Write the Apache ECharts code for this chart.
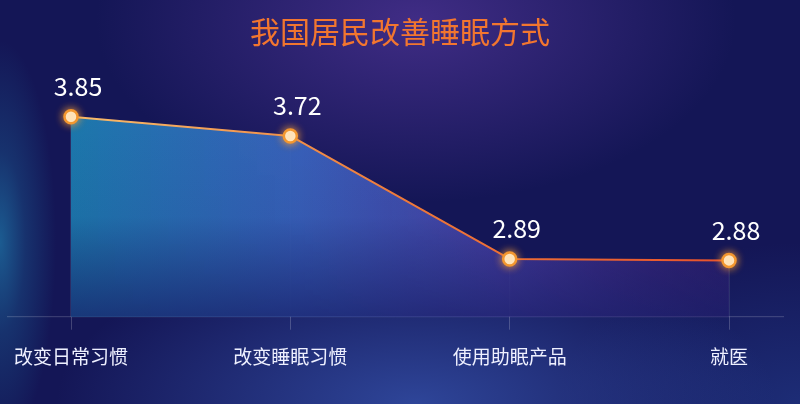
<!DOCTYPE html>
<html>
<head>
<meta charset="utf-8">
<script src="https://cdn.jsdelivr.net/npm/echarts@6/dist/echarts.min.js"></script>
<style>
html,body{margin:0;padding:0;width:800px;height:404px;overflow:hidden;}
body{
  background:
    radial-gradient(ellipse 45% 40% at 52% 100%, rgba(55,85,175,0.75), rgba(55,85,175,0) 100%),
    radial-gradient(ellipse 40% 45% at 52% 5%, rgba(75,50,145,0.8), rgba(75,50,145,0) 100%),
    radial-gradient(ellipse 7% 50% at 0% 60%, rgba(30,115,165,0.75) 0%, rgba(30,115,165,0.3) 45%, rgba(30,115,165,0) 100%),
    radial-gradient(ellipse 30% 40% at 100% 100%, rgba(35,60,140,0.6), rgba(35,60,140,0) 100%),
    #141656;
}
#c{width:800px;height:404px;}
</style>
</head>
<body>
<div id="c"></div>
<script>
const title = '我国居民改善睡眠方式';
const categories = ['改变日常习惯', '改变睡眠习惯', '使用助眠产品', '就医'];
const values = [3.85, 3.72, 2.89, 2.88];
const yMin = 2.5;
const yMax = 4.0;

const chart = echarts.init(document.getElementById('c'), null, {renderer: 'canvas'});
const font = '"Noto Sans CJK SC", "Noto Sans", sans-serif';
chart.setOption({
  backgroundColor: 'transparent',
  animation: false,
  title: {
    text: title,
    left: 'center',
    top: 12,
    textStyle: {
      fontFamily: font,
      fontSize: 30,
      fontWeight: 'normal',
      color: '#f2762f'
    }
  },
  grid: {left: 71, right: 71, top: 94.5, bottom: 87.3},
  graphic: [{
    type: 'line',
    shape: {x1: 7, y1: 316.7, x2: 784, y2: 316.7},
    style: {stroke: 'rgba(255,255,255,0.2)', lineWidth: 1},
    z: 1
  }],
  xAxis: {
    type: 'category',
    data: categories,
    boundaryGap: false,
    axisLine: {show: false},
    axisTick: {show: true, alignWithLabel: true, length: 13, lineStyle: {color: 'rgba(255,255,255,0.2)'}},
    axisLabel: {color: '#eef0ff', fontSize: 19, fontFamily: font, margin: 31},
    splitLine: {show: false}
  },
  yAxis: {
    type: 'value',
    min: yMin,
    max: yMax,
    show: false,
    splitLine: {show: false}
  },
  series: [
    {
      type: 'bar',
      data: values,
      barWidth: 1,
      silent: true,
      itemStyle: {color: 'rgba(255,255,255,0.2)'},
      z: 1
    },
    {
      type: 'line',
      data: values,
      symbol: 'none',
      lineStyle: {width: 0},
      areaStyle: {
        opacity: 1,
        color: new echarts.graphic.LinearGradient(0, 0, 1, 0, [
          {offset: 0, color: 'rgba(28,120,172,1)'},
          {offset: 0.35, color: 'rgba(58,100,190,0.95)'},
          {offset: 0.65, color: 'rgba(80,70,175,0.85)'},
          {offset: 1, color: 'rgba(88,42,140,0.4)'}
        ])
      },
      z: 2
    },
    {
      type: 'line',
      data: values,
      symbol: 'none',
      lineStyle: {width: 0},
      areaStyle: {
        opacity: 1,
        color: new echarts.graphic.LinearGradient(0, 0, 0, 1, [
          {offset: 0, color: 'rgba(20,25,95,0)'},
          {offset: 0.5, color: 'rgba(20,25,95,0.08)'},
          {offset: 1, color: 'rgba(22,28,100,0.7)'}
        ])
      },
      z: 3
    },
    {
      type: 'line',
      data: values,
      symbol: 'circle',
      symbolSize: 13,
      lineStyle: {
        width: 2,
        color: new echarts.graphic.LinearGradient(0, 0, 1, 0, [
          {offset: 0, color: '#f8bd6c'},
          {offset: 0.5, color: '#ee7a3a'},
          {offset: 1, color: '#e8522c'}
        ])
      },
      itemStyle: {
        color: '#fffbe8',
        borderColor: '#f3972f',
        borderWidth: 2.5,
        shadowBlur: 8,
        shadowColor: 'rgba(255,160,50,0.9)'
      },
      label: {
        show: true,
        position: 'top',
        distance: 10,
        offset: [7, 0],
        color: '#ffffff',
        fontSize: 25,
        fontFamily: font
      },
      z: 5
    }
  ]
});
</script>
</body>
</html>
